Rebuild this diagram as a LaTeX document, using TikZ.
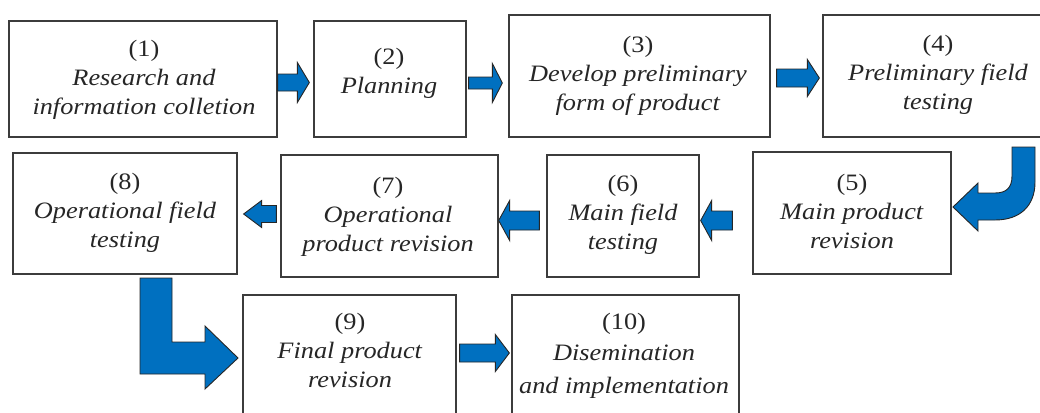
\documentclass[tikz,border=0pt]{standalone}
\usepackage{fontspec}
\setmainfont{Liberation Serif}[FakeStretch=1.12]
\usetikzlibrary{calc}
\definecolor{arrblue}{HTML}{0070C0}
\definecolor{boxline}{HTML}{3C3C3C}
\definecolor{txt}{HTML}{262626}
\newcommand\blockarr[6]{%
  \coordinate (#1-h) at ($(#3)!#6!(#2)$);
  \draw[barrow] ($(#2)!#4!90:(#3)$) -- ($(#1-h)!#4!90:(#3)$) -- ($(#1-h)!#5!90:(#3)$) -- (#3)
    -- ($(#1-h)!#5!-90:(#3)$) -- ($(#1-h)!#4!-90:(#3)$) -- ($(#2)!#4!-90:(#3)$) -- cycle;
}
\tikzset{
  box/.style={draw=boxline, line width=1.3pt, fill=white, inner sep=0pt},
  lbl/.style={align=center, inner sep=0pt, anchor=north, text=txt,
    font=\fontsize{23.5}{29}\selectfont},
  barrow/.style={fill=arrblue, draw=black!85, line width=0.9pt, line join=miter}
}
\begin{document}
\begin{tikzpicture}[x=1pt,y=-1pt]
\useasboundingbox[fill=white] (0,0) rectangle (1040,412);
% boxes
\node[box, minimum width=268, minimum height=116] (b1) at (143,79) {};
\node[box, minimum width=152, minimum height=116] (b2) at (390,79) {};
\node[box, minimum width=261, minimum height=122] (b3) at (639.5,76) {};
\node[box, minimum width=237, minimum height=122] (b4) at (941.5,76) {};
\node[box, minimum width=198, minimum height=122] (b5) at (852,213) {};
\node[box, minimum width=152, minimum height=122] (b6) at (623,216) {};
\node[box, minimum width=217, minimum height=122] (b7) at (389.5,216) {};
\node[box, minimum width=224, minimum height=121] (b8) at (125,213.5) {};
\node[box, minimum width=213, minimum height=135] (b9) at (349.5,362.5) {};
\node[box, minimum width=227, minimum height=135] (b10) at (625.5,362.5) {};
% labels
\node[lbl] (t1) at (144,40) {(1)\\ \textit{Research and}\\ \textit{information colletion}};
\node[lbl] (t2) at (389,48) {(2)\\ \textit{Planning}};
\node[lbl] (t3) at (638,36) {(3)\\ \textit{Develop preliminary}\\ \textit{form of product}};
\node[lbl] (t4) at (938,35) {(4)\\ \textit{Preliminary field}\\ \textit{testing}};
\node[lbl] (t5) at (852,174) {(5)\\ \textit{Main product}\\ \textit{revision}};
\node[lbl] (t6) at (623,175) {(6)\\ \textit{Main field}\\ \textit{testing}};
\node[lbl] (t7) at (388,177) {(7)\\ \textit{Operational}\\ \textit{product revision}};
\node[lbl] (t8) at (125,173) {(8)\\ \textit{Operational field}\\ \textit{testing}};
\node[lbl] (t9) at (350,313) {(9)\\ \textit{Final product}\\ \textit{revision}};
\node[lbl] (t10) at (624,313) {(10)\\[2pt] \textit{Disemination}\\[4pt] \textit{and implementation}};
% straight block arrows
\coordinate (a12s) at ($(b1.east)+(0,3.5)$);  \coordinate (a12e) at ($(b2.west)+(-4,3.5)$);
\coordinate (a23s) at ($(b2.east)+(2,4)$);    \coordinate (a23e) at ($(b3.west)+(-6,7)$);
\coordinate (a34s) at ($(b3.east)+(6,2)$);    \coordinate (a34e) at ($(b4.west)+(-3,2)$);
\coordinate (a56s) at ($(b5.west)+(-20,7.5)$); \coordinate (a56e) at ($(b6.east)+(1,4.5)$);
\coordinate (a67s) at ($(b6.west)+(-7,4.5)$); \coordinate (a67e) at ($(b7.east)+(0,4.5)$);
\coordinate (a78s) at ($(b7.west)+(-4,-2)$);  \coordinate (a78e) at ($(b8.east)+(6,0.5)$);
\coordinate (a910s) at ($(b9.east)+(3,-9.5)$); \coordinate (a910e) at ($(b10.west)+(-2,-9.5)$);
\blockarr{a12}{a12s}{a12e}{8.5pt}{20pt}{12pt}
\blockarr{a23}{a23s}{a23e}{6pt}{19.5pt}{10pt}
\blockarr{a34}{a34s}{a34e}{9pt}{18.5pt}{12pt}
\blockarr{a56}{a56s}{a56e}{9.5pt}{20pt}{11pt}
\blockarr{a67}{a67s}{a67e}{9.5pt}{20pt}{11pt}
\blockarr{a78}{a78s}{a78e}{8.5pt}{13.5pt}{18pt}
\blockarr{a910}{a910s}{a910e}{9pt}{18.5pt}{14pt}
% curved arrow 4 -> 5
\coordinate (c45) at (953,207);
\draw[barrow] (1012,147) -- (1035,147) -- (1035,182)
  .. controls (1035,206) and (1020,220) .. (995,220) -- (978,220) -- (978,231) -- (c45)
  -- (978,183) -- (978,193) -- (995,193) .. controls (1006,193) and (1012,188) .. (1012,176) -- cycle;
% bent arrow 8 -> 9
\coordinate (c89) at (238,358);
\draw[barrow] (140,278) -- (172,278) -- (172,342) -- (205,342) -- (205,326) -- (c89)
  -- (205,389) -- (205,374) -- (140,374) -- cycle;
\end{tikzpicture}
\end{document}
